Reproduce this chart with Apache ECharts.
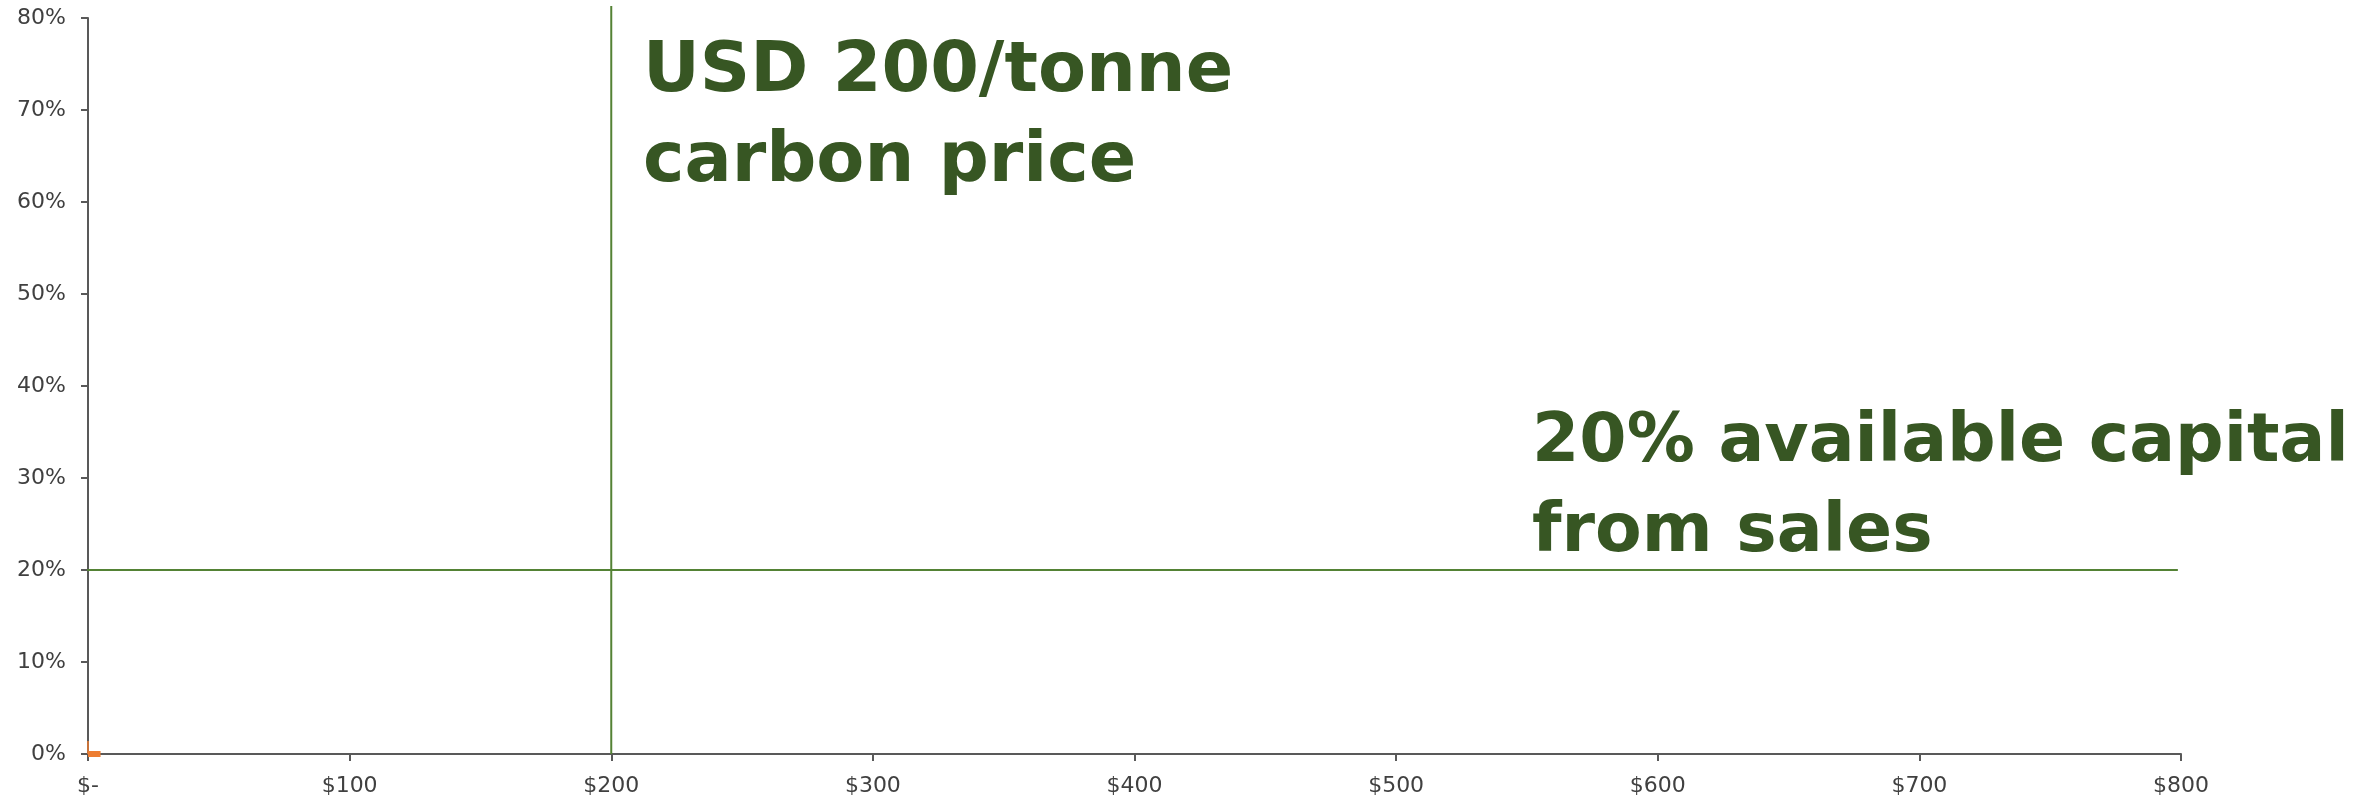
<!DOCTYPE html>
<html>
<head>
<meta charset="utf-8">
<script src="https://cdn.jsdelivr.net/npm/echarts@6/dist/echarts.min.js"></script>
<style>
  html, body { margin: 0; padding: 0; background: #ffffff; }
  #chart { width: 2372px; height: 801px; }
</style>
</head>
<body>
<div id="chart"></div>
<script>
// Carbon price (USD/tonne) on x, share of capital (%) on y
const xTicks = [0, 100, 200, 300, 400, 500, 600, 700, 800];
const yTicks = [0, 10, 20, 30, 40, 50, 60, 70, 80];

// Reference line: USD 200/tonne carbon price
const priceLineX = [200, 200];
const priceLineY = [0, 81.3];

// Reference line: 20% available capital from sales
const capitalLineX = [-2.5, 798.8];
const capitalLineY = [20, 20];

// Capital-need curve (only visible near the origin)
const curveStemX = [0, 0];
const curveStemY = [0, 1.4];
const curveBaseX = [0, 4.8];
const curveBaseY = [0, 0];

const priceLabel = 'USD 200/tonne\ncarbon price';
const capitalLabel = '20% available capital\nfrom sales';

const pairs = (xs, ys) => xs.map((x, i) => [x, ys[i]]);

const labelGreen = '#375623';
const lineGreen = '#548235';
const orange = '#ED7D31';
const axisGray = '#595959';
const tickText = '#404040';

const chart = echarts.init(document.getElementById('chart'), null, { renderer: 'canvas' });

chart.setOption({
  animation: false,
  backgroundColor: '#ffffff',
  grid: { left: 88, right: 191, top: 18, bottom: 47, containLabel: false },
  xAxis: {
    type: 'value',
    min: xTicks[0],
    max: xTicks[xTicks.length - 1],
    interval: 100,
    axisLine: { show: true, lineStyle: { color: axisGray, width: 2 } },
    axisTick: { show: true, inside: false, length: 7, lineStyle: { color: axisGray, width: 2 } },
    splitLine: { show: false },
    axisLabel: {
      margin: 21,
      fontFamily: 'DejaVu Sans',
      fontSize: 22,
      color: tickText,
      formatter: v => (v === 0 ? '$-' : '$' + v)
    }
  },
  yAxis: {
    type: 'value',
    min: yTicks[0],
    max: yTicks[yTicks.length - 1],
    interval: 10,
    axisLine: { show: true, lineStyle: { color: axisGray, width: 2 } },
    axisTick: { show: true, inside: false, length: 7, lineStyle: { color: axisGray, width: 2 } },
    splitLine: { show: false },
    axisLabel: {
      margin: 22,
      fontFamily: 'DejaVu Sans',
      fontSize: 22,
      color: tickText,
      formatter: v => v + '%'
    }
  },
  series: [
    {
      name: 'Carbon price',
      type: 'line',
      data: pairs(priceLineX, priceLineY),
      clip: false,
      symbol: 'none',
      lineStyle: { color: lineGreen, width: 2 },
      z: 3
    },
    {
      name: 'Available capital',
      type: 'line',
      data: pairs(capitalLineX, capitalLineY),
      clip: false,
      symbol: 'none',
      lineStyle: { color: lineGreen, width: 2 },
      z: 3
    },
    {
      name: 'Capital need stem',
      type: 'line',
      data: pairs(curveStemX, curveStemY),
      clip: false,
      symbol: 'none',
      lineStyle: { color: orange, width: 1.5 },
      z: 4
    },
    {
      name: 'Capital need',
      type: 'line',
      data: pairs(curveBaseX, curveBaseY),
      clip: false,
      symbol: 'none',
      lineStyle: { color: orange, width: 6, cap: 'butt' },
      z: 4
    }
  ],
  graphic: [
    {
      type: 'text',
      left: 643,
      top: 28,
      z: 10,
      style: {
        text: priceLabel,
        fontFamily: 'DejaVu Sans',
        fontWeight: 'bold',
        fontSize: 70,
        lineHeight: 90,
        fill: labelGreen
      }
    },
    {
      type: 'text',
      left: 1532,
      top: 398,
      z: 10,
      style: {
        text: capitalLabel,
        fontFamily: 'DejaVu Sans',
        fontWeight: 'bold',
        fontSize: 68,
        lineHeight: 90,
        fill: labelGreen
      }
    }
  ]
});
</script>
</body>
</html>
